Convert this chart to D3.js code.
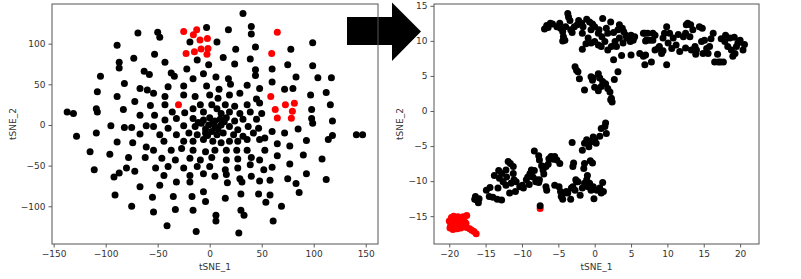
<!DOCTYPE html>
<html>
<head>
<meta charset="utf-8">
<script src="https://cdn.jsdelivr.net/npm/d3@7"></script>
<style>
body { margin: 0; background: #fff; }
text { font-family: "DejaVu Sans", sans-serif; }
</style>
</head>
<body>
<div id="chart"></div>
<script>
// left panel: raw embedding
var leftXTicks = [-150, -100, -50, 0, 50, 100, 150];
var leftYTicks = [-100, -50, 0, 50, 100];

var leftRed = [
  [-25,115],[-15.7,111],[-12.5,117],[-14.7,90],[-22.7,88],[-9.3,104.5],[-2.2,106.5],[-8.3,93.4],
  [-1.6,94],[-2.6,87],[65,114],[59.6,88],[-30,25],[58.7,35],[63,19],[65,8.6],[72.8,25],[81.4,26.6],
  [79.5,17],[78.5,8.2]
];

var leftBlack = [
  [32,137],[-3,120],[18,117],[40,121],[40,112],[-69,113],[-50,114],[-48,108],[-19,102],[7,102],[99,101],
  [-89,98],[44,96],[25,93],[78,93],[-12,80],[13,83],[-73,82],[-87,77],[-87,70],[39,81],[24,75],[75,74],
  [99,73],[-53,87],[-43,77],[-1,74],[-22,69],[60,69],[44,68],[44,61],[-105,60],[-63,66],[-58,62],
  [104,58],[117,58],[-37,64],[-34,60],[-16,57],[-6,63],[6,59],[18,57],[20,50],[36,49],[83,59],[60,53],
  [-82,51],[-40,47],[-25,48],[-3,48],[48,45],[-108,41],[-67,45],[-60,43],[9,44],[72,44],[80,45],
  [112,40],[97,37],[-89,35],[-72,29],[116,25],[98,19],[98,8],[118,5],
  [-137,16],[-131,14],[-109,20],[-108,16],[-83,19],[-67,12],[-95,-1],[-82,-3],[-75,-3],[-61,-1],
  [99,2],[85,-5],[72,-10],[60,-8],[141,-12],[147,-12],[118,-13],[114,-18],[93,-19],[77,-26],[65,-23],
  [90,-37],[108,-42],[77,-48],[65,-38],[60,-52],[93,-60],[112,-67],[75,-66],[83,-72],[86,-83],[58,-68],
  [48,-69],[31,-70],[30,-85],[47,-85],[58,-86],[54,-95],[69,-100],[61,-118],[30,-105],[33,-111],
  [6,-111],[6,-118],[15,-90],[-4,-94],[28,-133],[-6,-82],[17,-71],
  [-128,-14],[-109,-10],[-67,-11],[-89,-21],[-74,-22],[-61,-27],[-115,-33],[-96,-36],[-78,-40],
  [-62,-40],[-111,-55],[-80,-53],[-72,-57],[-92,-64],[-87,-59],[-67,-76],[-48,-74],[-32,-70],
  [-19,-70],[-91,-86],[-55,-89],[-35,-88],[-17,-88],[-75,-100],[-54,-107],[-33,-104],[-16,-105],
  [-41,-124],[-13,-131],
  // dense middle
  [-54,39],[-43,35],[-25,37],[-14,35],[0,37],[8,33],[19,37],[29,39],[45,32],
  [-43,25],[-9,25],[2,25],[15,25],[24,23],[36,25],[48,27],[-57,24],
  [-24,15],[-16,20],[-6,16],[7,20],[11,14],[19,16],[29,14],[39,16],[50,14],[-53,12],[-36,16],
  [-43,6],[-32,8],[-16,8],[-6,6],[0,9],[5,5],[10,7],[16,9],[24,5],[32,7],[45,7],
  [-54,-2],[-40,-4],[-25,-1],[-14,-2],[-8,2],[-1,0],[5,-2],[11,0],[19,-2],[27,-6],[37,-2],[47,-4],
  [-48,-12],[-32,-12],[-20,-10],[-12,-12],[-4,-10],[2,-8],[7,-12],[13,-10],[23,-12],[32,-14],[42,-10],[53,-16],
  [-44,-20],[-25,-20],[-16,-20],[-6,-18],[3,-20],[11,-22],[19,-20],[27,-20],[36,-18],[48,-18],
  [-54,-31],[-37,-31],[-27,-29],[-16,-31],[-4,-33],[5,-31],[16,-31],[26,-31],[36,-31],[53,-31],
  [-46,-41],[-33,-43],[-19,-41],[-9,-43],[2,-40],[16,-43],[27,-42],[40,-40],[48,-43],
  [-52,-53],[-40,-51],[-25,-53],[-12,-51],[0,-51],[15,-55],[27,-53],[39,-49],[52,-55],
  [-44,-62],[-19,-62],[-6,-60],[5,-63],[16,-61],[29,-66],[40,-63],
  [3,4],[-4,-5],[8,-5],[-11,3],[14,4],[-2,-13]
];

// right panel: embedding after training
var rightXTicks = [-20, -15, -10, -5, 0, 5, 10, 15, 20];
var rightYTicks = [-15, -10, -5, 0, 5, 10, 15];

var rightRed = [
  [-20,-15.7],[-19.8,-16.3],[-19.7,-15.2],[-19.4,-15.0],[-19.3,-16.0],[-19.1,-15.5],[-19,-16.5],
  [-18.8,-15.1],[-18.6,-15.9],[-18.4,-16.7],[-18.3,-15.6],[-18.1,-16.2],[-18.1,-15.1],[-17.9,-15.8],
  [-17.7,-16.0],[-17.6,-14.9],[-19.9,-16.7],[-19.5,-16.9],[-18.9,-16.8],[-17.2,-16.8],[-16.9,-17.0],
  [-16.6,-17.2],[-16.3,-17.5],[-17.6,-16.6],[-19.6,-15.6],[-18.6,-15.3],[-19.2,-16.6],[-7.5,-13.9]
];

var rightBlack = [
  // upper band, left part
  [-6.9,11.7],[-6.6,12.2],[-6.4,11.9],[-6.1,12.5],[-5.8,12.4],[-4.8,12.5],[-4.7,11.8],[-4.4,11.3],
  [-4.3,10.6],[-4.1,10.1],[-4.4,10.0],[-3.7,13.9],[-3.6,13.4],[-3.4,12.9],[-4,12],[-3.3,11.6],
  [-3.1,11.2],[-2.2,12.9],[-1.8,12.5],[-1.6,12],[-1.7,11.1],[-2.4,12.3],[-1.1,13.1],[-0.7,12.7],
  [-0.3,12.4],[-0.5,11.6],[0,12],[0.5,11.1],[0.6,11.6],[1.1,13.2],[2.2,12.7],[1.6,11.8],[1.8,11.1],
  [3.4,12.3],[3.8,11.8],[4,11.3],[4.3,10.8],[4.4,10.4],[3.2,11.6],[5,10.8],[5.5,10.6],[6.7,11.1],
  [7,10],[8,10.1],[8.3,10.8],[-0.5,9.7],[0,9.9],[0.5,9.4],[-1.7,8.8],[-1.2,9.6],[0.9,9.2],[1.4,9.9],
  [1.8,8.7],[2.3,9.2],[2.8,9.9],[3,9.2],[3.4,10.4],[3.9,9.7],[4.9,9.9],[5.3,10.1],[3.7,7.9],
  [2.6,7.3],[5,8],[6.2,8.2],[6.7,7.8],[7,8],[6.9,6.6],[7.8,7],[8.3,8.7],[9.9,6.6],
  [-2.8,12.0],[-0.9,10.4],[1.0,10.6],[2.6,11.2],[-5.2,12.0],
  // upper band, right part
  [6.9,11.1],[7.1,10.1],[7.3,11.1],[7.6,10.1],[8,11.1],[8.7,8.9],[8.9,9.2],[9.2,8.2],[9.4,10.4],
  [9.6,11.1],[9.9,12],[10.1,9.7],[10.3,11.1],[10.6,8.9],[10.8,10.4],[11.2,9.4],[11.7,8.5],[12.2,10.6],
  [12.5,11.1],[12.6,12.3],[12.8,12.5],[13.1,10.6],[13.3,8.7],[13.5,11.6],[13.8,9.2],[14,8.7],
  [14.4,12],[14.7,9.9],[14.9,8.2],[15.1,10.1],[15.4,8.9],[15.6,8.2],[15.8,9.2],[16.3,11.1],[16.5,7],
  [17,7],[17.3,7],[17.7,7],[17.9,9.9],[18.3,9.2],[18.6,10.4],[18.8,8.7],[19,7.8],[19.3,8.2],
  [19.5,9.2],[19.7,9.7],[20,10.1],[20.4,8.7],[14.8,11.8],[17.4,10.3],[19.2,10.5],[20.6,9.5],
  [16.9,8.1],[13.9,8.1],[12.5,9.0],[11.5,10.9],[13.2,12.3],[16.0,10.3],[18.0,10.8],[9.4,8.6],
  // middle group
  [-2.7,6.3],[-2.5,5.8],[-2.3,5.6],[-2.1,4.6],[-1.4,3],[-0.5,4.9],[-0.3,4.4],[0,3.4],[0.5,5.3],
  [0.7,4.7],[0.9,3.5],[1.1,4.2],[1.5,3.9],[1.8,3.2],[2.1,2.7],[2.3,1.8],[2.2,1.6],[2.4,1.3],
  [2.7,4.5],[3.2,5.6],[-0.2,4.7],[0.5,2.9],
  // lower band
  [-16.4,-12.2],[-16.2,-12.7],[-16,-13.1],[-15.9,-12.5],[-16.5,-12.6],[-14.9,-11.3],[-14.4,-10.9],
  [-14.5,-12.2],[-14,-12.3],[-13.4,-12.6],[-12.8,-12.7],[-13.3,-11],[-13.1,-9.6],[-13.2,-8.5],
  [-12.8,-8.9],[-12.6,-10.1],[-12.2,-10.6],[-12.1,-9.4],[-12.2,-8.4],[-11.9,-7.2],[-11.6,-7.5],
  [-11.2,-7.9],[-11.2,-8.9],[-11.1,-9.8],[-11.5,-10.3],[-11.7,-11.7],[-10.8,-10.1],[-10.3,-10.8],
  [-9.95,-10.6],[-9.4,-9.8],[-9.8,-11],[-9.2,-9.4],[-8.9,-8.9],[-8.5,-9.4],[-8.1,-10.1],[-8,-9.8],
  [-8.3,-5.7],[-8.7,-8.4],[-8.3,-8.5],[-7.7,-6.4],[-7.6,-7],[-7.3,-7.8],[-7.6,-9.8],[-7.7,-10.2],
  [-7.1,-8.4],[-7,-9],[-6.7,-7.9],[-6.4,-7.6],[-6.3,-6.8],[-6,-6.5],[-5.7,-6.9],[-5.5,-6.5],
  [-5.2,-7],[-4.8,-7.5],[-6.7,-10.8],[-6.6,-11.3],[-5.5,-10.6],[-4.9,-10.8],[-4.7,-11.5],[-4.6,-12.2],
  [-4.4,-12.6],[-4.1,-11.7],[-3.9,-11.5],[-3.7,-11.7],[-3.3,-12.6],[-3.2,-11],[-3,-10.8],[-2.7,-11.3],
  [-2.5,-10.1],[-2.3,-10.1],[-3.1,-4.5],[-2.9,-7.4],[-3,-7.9],[-2.6,-9.8],[-1.7,-5.6],[-1.5,-8.2],
  [-1.4,-7.5],[-1.7,-11],[-1.4,-10.3],[-1.1,-9.8],[-0.9,-10.8],[-0.7,-10.3],[-0.5,-11.3],[-0.2,-10.8],
  [-1.4,-4.6],[-1.1,-4.1],[-0.8,-5.1],[-0.5,-4.4],[-0.2,-3.7],[0,-4.1],[0.2,-4.6],[-0.6,-7.1],
  [-0.3,-7.4],[-0.1,-12.5],[0.3,-11.3],[0.7,-11],[0.9,-11.7],[1.1,-10.2],[1.2,-11.5],[0.7,-3.6],
  [0.9,-2.5],[1.4,-2.2],[1.6,-3.2],[1.5,-1.7],
  [-10.9,-11.5],[-13.8,-9.2],[-9.0,-10.5],[-2.0,-12.0],[-1.0,-9.2],
  [-7.5,-13.5]
];

var W = 801, H = 279;

var svg = d3.select("#chart").append("svg")
  .attr("width", W)
  .attr("height", H);

// block arrow between the two panels
var arrow = [[347,17],[392,17],[392,2.5],[421,31.5],[392,61],[392,45],[347,45]];
svg.append("path")
  .attr("d", d3.line()(arrow) + "Z")
  .attr("fill", "#000");

function panel(cfg) {
  var x = d3.scaleLinear().domain(cfg.xDomain).range([cfg.left, cfg.right]);
  var y = d3.scaleLinear().domain(cfg.yDomain).range([cfg.bottom, cfg.top]);
  var g = svg.append("g");

  var xAxis = g.append("g")
    .attr("transform", "translate(0," + cfg.bottom + ")")
    .call(d3.axisBottom(x).tickValues(cfg.xTicks).tickSize(3.5).tickPadding(3).tickSizeOuter(0));
  var yAxis = g.append("g")
    .attr("transform", "translate(" + cfg.left + ",0)")
    .call(d3.axisLeft(y).tickValues(cfg.yTicks).tickSize(3.5).tickPadding(3).tickSizeOuter(0));

  [xAxis, yAxis].forEach(function(a) {
    a.select(".domain").remove();
    a.selectAll("line").attr("stroke", "#333").attr("stroke-width", 0.8);
    a.selectAll("text").attr("fill", "#333").style("font-size", "9px")
      .style("font-family", "DejaVu Sans, sans-serif");
  });

  // red first, black drawn on top
  g.append("g").selectAll("circle")
    .data(cfg.red)
    .enter().append("circle")
    .attr("cx", function(d) { return x(d[0]); })
    .attr("cy", function(d) { return y(d[1]); })
    .attr("r", 3.5)
    .attr("fill", "#f00");

  g.append("g").selectAll("circle")
    .data(cfg.black)
    .enter().append("circle")
    .attr("cx", function(d) { return x(d[0]); })
    .attr("cy", function(d) { return y(d[1]); })
    .attr("r", 3.5)
    .attr("fill", "#000");

  g.append("rect")
    .attr("x", cfg.left)
    .attr("y", cfg.top)
    .attr("width", cfg.right - cfg.left)
    .attr("height", cfg.bottom - cfg.top)
    .attr("fill", "none")
    .attr("stroke", "#555")
    .attr("stroke-width", 1);

  g.append("text")
    .attr("x", (cfg.left + cfg.right) / 2)
    .attr("y", 270)
    .attr("text-anchor", "middle")
    .attr("fill", "#333")
    .style("font-size", "9px")
    .text("tSNE_1");

  g.append("text")
    .attr("transform", "translate(" + cfg.ylabX + "," + ((cfg.top + cfg.bottom) / 2) + ") rotate(-90)")
    .attr("text-anchor", "middle")
    .attr("fill", "#333")
    .style("font-size", "9px")
    .text("tSNE_2");
}

panel({
  left: 52, right: 378, top: 4, bottom: 244,
  xDomain: [-151.6, 161.8], yDomain: [-146.4, 148.8],
  xTicks: leftXTicks, yTicks: leftYTicks,
  black: leftBlack, red: leftRed, ylabX: 16
});

panel({
  left: 434, right: 759, top: 4, bottom: 244,
  xDomain: [-22.1, 22.6], yDomain: [-18.97, 15.26],
  xTicks: rightXTicks, yTicks: rightYTicks,
  black: rightBlack, red: rightRed, ylabX: 403
});
</script>
</body>
</html>
